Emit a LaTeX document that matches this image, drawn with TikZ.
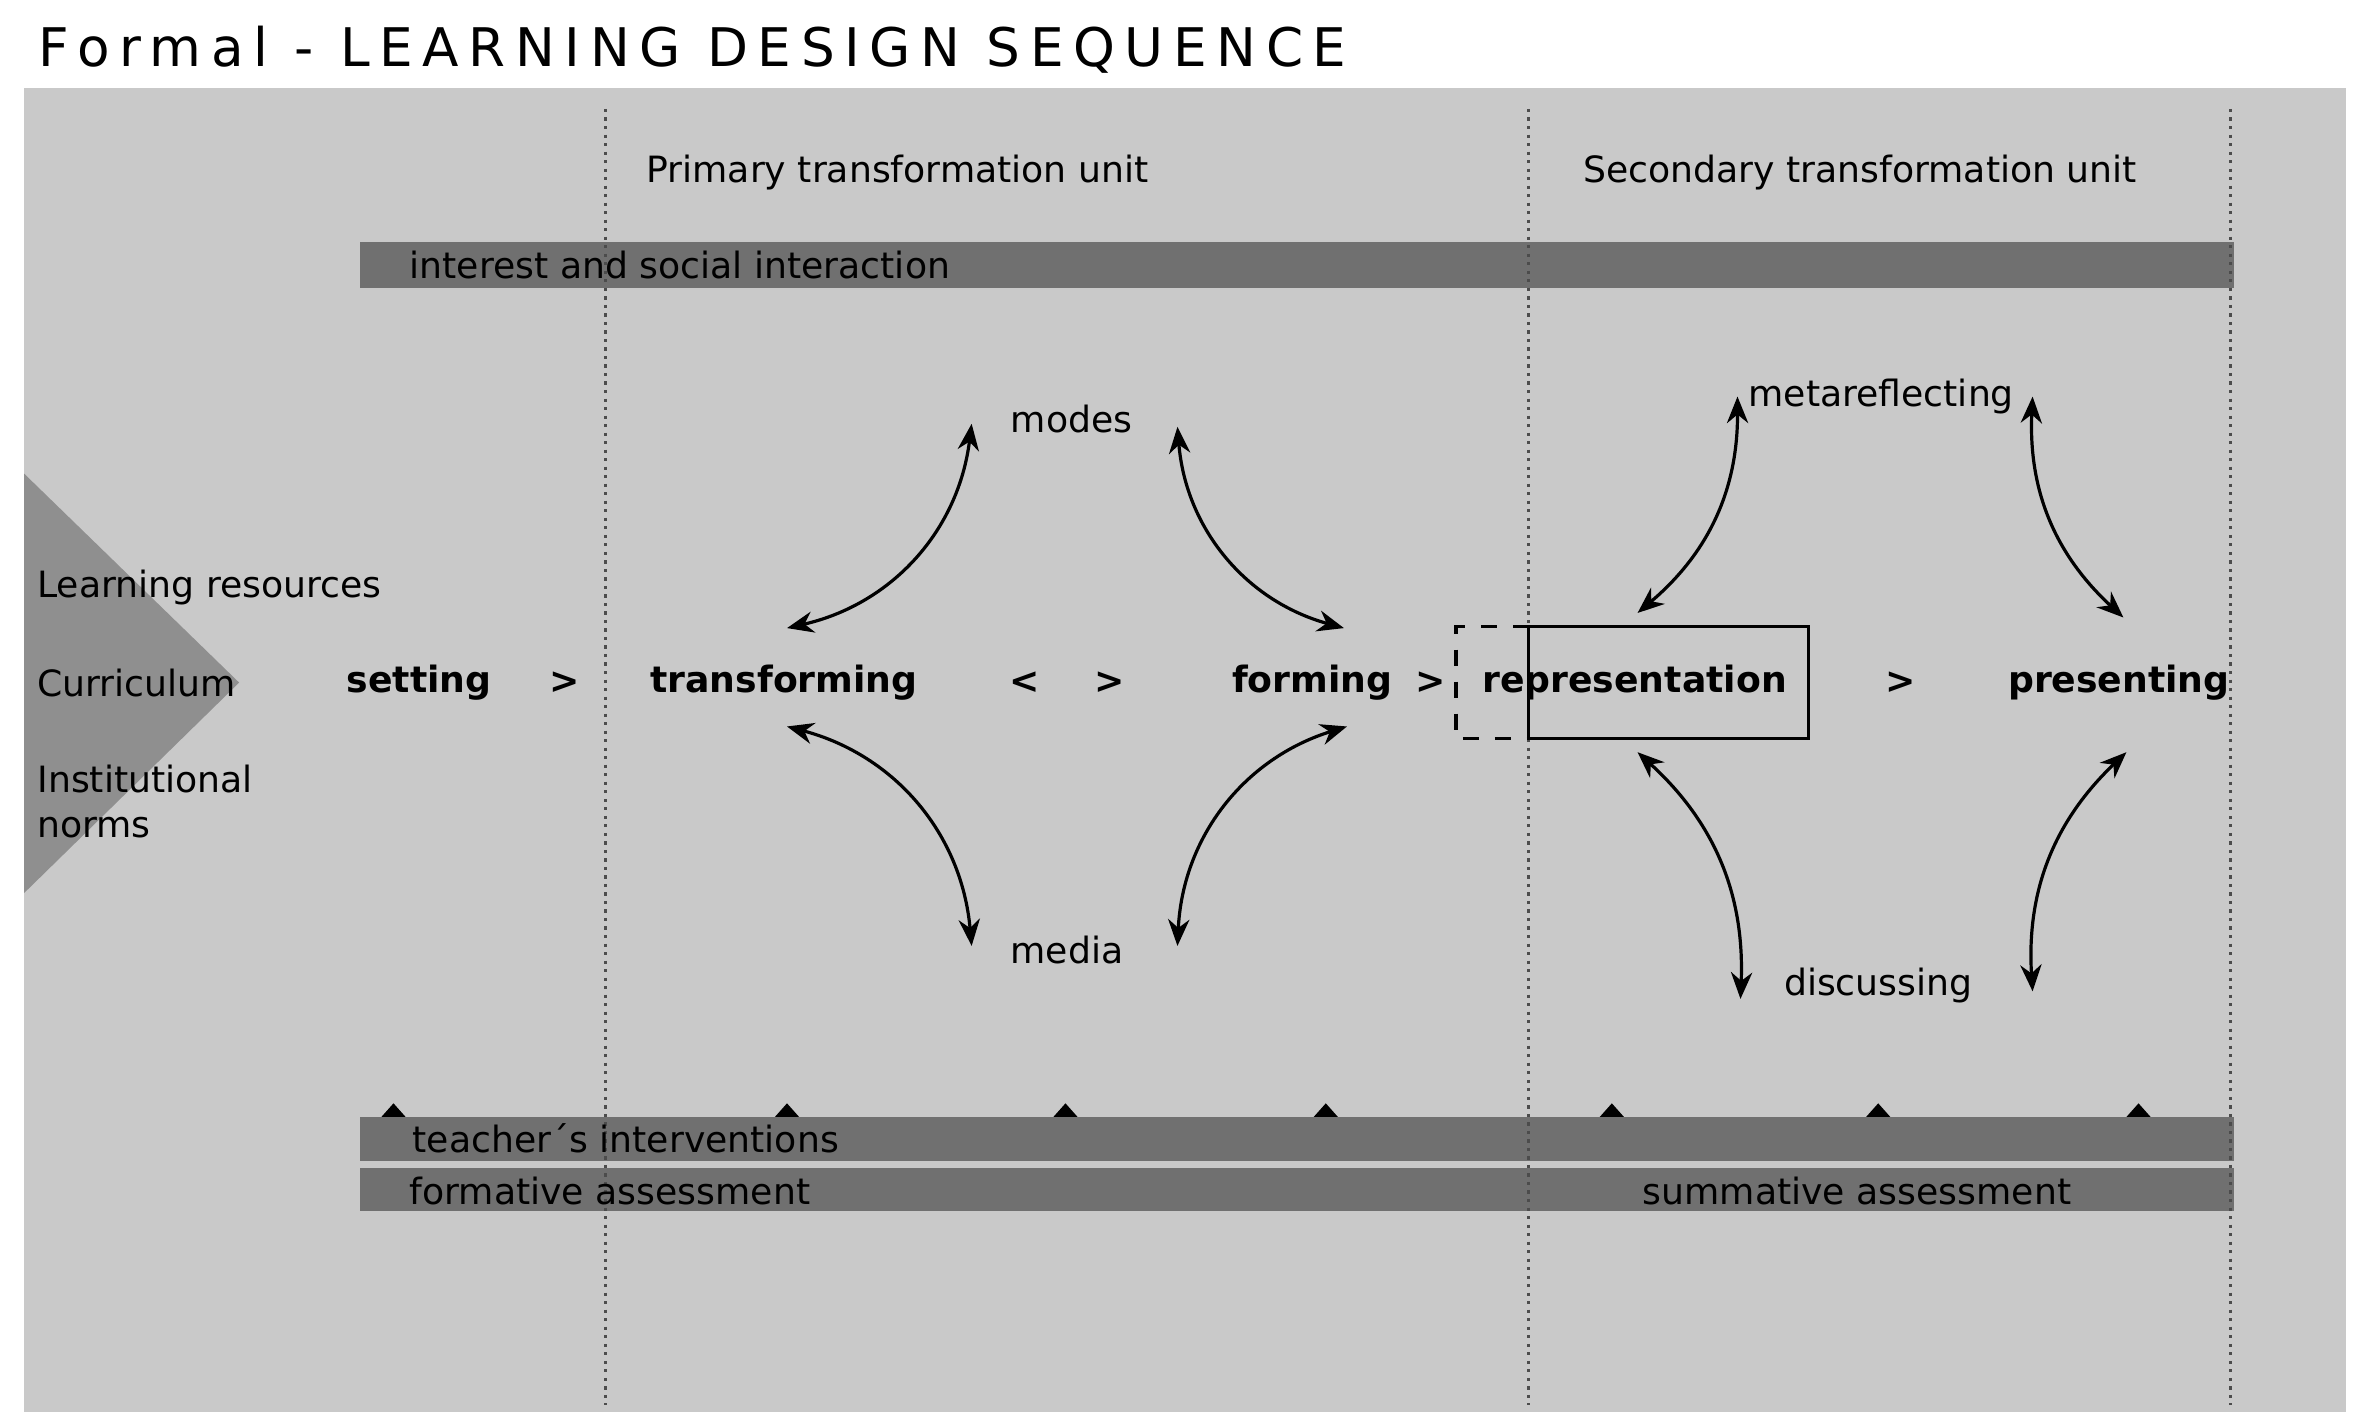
\documentclass[tikz,border=0pt]{standalone}
\usepackage{fontspec}
\setmainfont{DejaVu Sans}
\usetikzlibrary{arrows.meta}
\begin{document}
\begin{tikzpicture}[x=0.01cm,y=-0.01cm,
  txt/.style={font=\fontsize{6.8}{8}\selectfont,inner sep=0pt},
  bt/.style={font=\fontsize{6.8}{8}\selectfont\bfseries,inner sep=0pt},
  bar/.style={fill=black!56,draw=none},
  dots/.style={densely dotted,black!70,line width=0.6pt},
  arr/.style={{Stealth[length=5pt,width=4pt]}-{Stealth[length=5pt,width=4pt]},line width=0.6pt},
  tri/.style={fill=black,draw=none}]
\useasboundingbox (0,0) rectangle (1560,942);
\fill[white] (0,0) rectangle (1560,942);
\node[anchor=west,inner sep=0pt,font=\fontsize{10}{12}\selectfont\addfontfeatures{LetterSpace=18}] (title) at (25,33) {Formal - LEARNING DESIGN SEQUENCE};
\fill[black!21] (16,58) rectangle (1550,933);
\fill[black!44] (16,313) -- (158,451) -- (16,590) -- cycle;
\fill[bar] (238,160) rectangle (1476,190);
\fill[bar] (238,738) rectangle (1476,767);
\fill[bar] (238,772) rectangle (1476,800);
\foreach \x in {400,1010,1474} \draw[dots] (\x,72) -- (\x,928);
\foreach \x in {260,520,704,876,1065,1241,1413} \fill[tri] (\x-8,738) -- (\x,729) -- (\x+8,738) -- cycle;
\node[txt] (pt) at (593,114) {Primary transformation unit};
\node[txt] (st) at (1229,114) {Secondary transformation unit};
\node[txt,anchor=west] (isi) at (270,175) {interest and social interaction};
\node[txt,anchor=west] (ti) at (272,752) {teacher´s interventions};
\node[txt,anchor=west] (fa) at (270,787) {formative assessment};
\node[txt] (sa) at (1227,787) {summative assessment};
\node[txt,anchor=west] (lr) at (24,388) {Learning resources};
\node[txt,anchor=west] (cu) at (24,451) {Curriculum};
\node[txt,anchor=west] (in1) at (24,515) {Institutional};
\node[txt,anchor=west] (in2) at (24,547) {norms};
\node[bt] (setting) at (277,451) {setting};
\node[bt] (g1) at (373,451) {>};
\node[bt] (transforming) at (518,451) {transforming};
\node[bt] (l2) at (677,451) {<};
\node[bt] (g2) at (733,451) {>};
\node[bt] (forming) at (867,451) {forming};
\node[bt] (g3) at (945,451) {>};
\node[bt] (representation) at (1080,451) {representation};
\node[bt] (g4) at (1256,451) {>};
\node[bt] (presenting) at (1400,451) {presenting};
\draw[line width=0.6pt] (1010,414) rectangle (1195,488);
\draw[dashed,line width=0.6pt] (1010,414) -- (962,414) -- (962,488) -- (1010,488);
\node[txt] (modes) at (708,277) {modes};
\node[txt] (media) at (705,628) {media};
\node[txt] (meta) at (1243,262) {metareflecting};
\node[txt] (disc) at (1241,651) {discussing};
\coordinate (a1) at (520,415); \coordinate (a2) at (642,280);
\coordinate (b1) at (778,282); \coordinate (b2) at (888,415);
\coordinate (c1) at (520,480); \coordinate (c2) at (642,625);
\coordinate (d1) at (778,625); \coordinate (d2) at (890,480);
\coordinate (e1) at (1082,405); \coordinate (e2) at (1148,262);
\coordinate (f1) at (1343,262); \coordinate (f2) at (1403,408);
\coordinate (h1) at (1082,497); \coordinate (h2) at (1150,660);
\coordinate (k1) at (1343,655); \coordinate (k2) at (1405,497);
\draw[arr] (a1) to[bend right=35] (a2);
\draw[arr] (b1) to[bend right=35] (b2);
\draw[arr] (c1) to[bend left=35] (c2);
\draw[arr] (d1) to[bend left=35] (d2);
\draw[arr] (e1) to[bend right=25] (e2);
\draw[arr] (f1) to[bend right=25] (f2);
\draw[arr] (h1) to[bend left=25] (h2);
\draw[arr] (k1) to[bend left=25] (k2);
\end{tikzpicture}
\end{document}
